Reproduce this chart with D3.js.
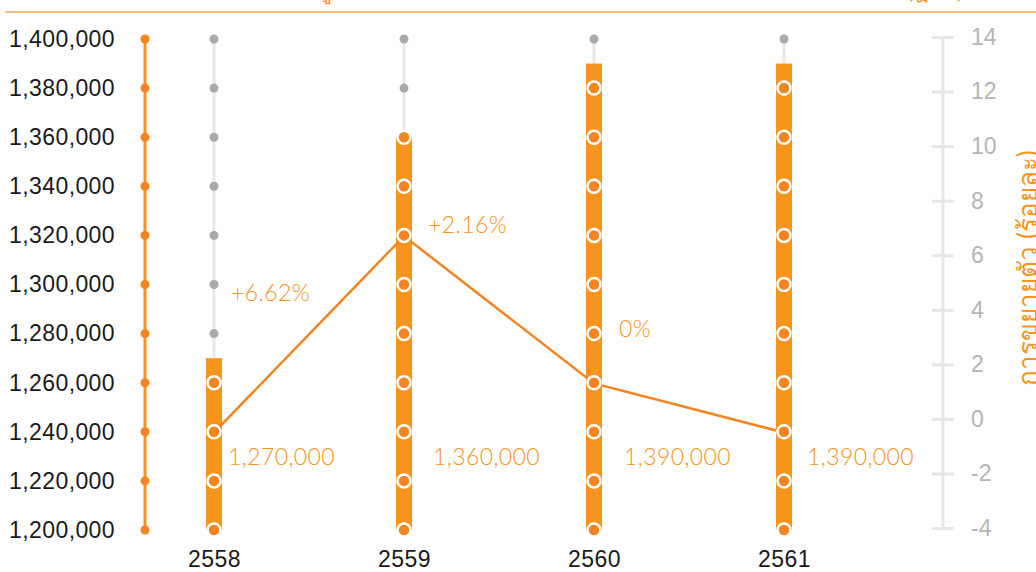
<!DOCTYPE html>
<html>
<head>
<meta charset="utf-8">
<script src="https://cdn.jsdelivr.net/npm/d3@7"></script>
<style>
  body { margin: 0; background: #fff; }
  svg { display: block; font-family: Lato, "Noto Sans", sans-serif; }
</style>
</head>
<body>
<svg width="1036" height="572"></svg>
<script>
var years = ["2558", "2559", "2560", "2561"];
var amounts = [1270000, 1360000, 1390000, 1390000];
var growthLine = [-0.5, 6.7, 1.3, -0.5];
var growthLabels = ["+6.62%", "+2.16%", "0%"];
var growthLabelPos = [4.65, 7.15, 3.35];
var leftTicks = [1200000, 1220000, 1240000, 1260000, 1280000, 1300000, 1320000, 1340000, 1360000, 1380000, 1400000];
var rightTicks = [-4, -2, 0, 2, 4, 6, 8, 10, 12, 14];

// label nudges (px)
var valueDx = [14, 29, 30, 23];
var pctDx = [17, 24, 25];

var orange = "#f7941d";
var dotOrange = "#f28421";
var grey = "#a7a9ac";
var light = "#e6e7e8";

var svg = d3.select("svg");

var x = d3.scalePoint().domain(years).range([214, 784]);
var yL = d3.scaleLinear().domain([1200000, 1400000]).range([530, 39]);
var yR = d3.scaleLinear().domain([-4, 14]).range([528, 37]);

// title, mostly above the top edge
svg.append("text")
    .attr("x", 560).attr("y", -2)
    .attr("text-anchor", "middle")
    .style("font-size", "24px")
    .style("fill", orange)
    .text("แนวโน้มจำนวนผู้ใช้บริการ และอัตราการขยายตัว ระหว่างปี 2558 - 2561 (ฎีกา)");
svg.append("line")
    .attr("x1", 5).attr("x2", 1036).attr("y1", 12).attr("y2", 12)
    .style("stroke", "#f9a55a").style("stroke-width", 1.5);

// left axis
var left = svg.append("g").attr("transform", "translate(145,0)")
    .call(d3.axisLeft(yL).tickValues(leftTicks).tickFormat(d3.format(",")).tickSize(0).tickPadding(30));
left.select(".domain").remove();
left.selectAll("text").style("font-size", "23px").style("font-weight", 300)
    .style("letter-spacing", "0.4px").style("fill", "#1a1a1a");
svg.append("line")
    .attr("x1", 145).attr("x2", 145).attr("y1", yL(1400000)).attr("y2", yL(1200000))
    .style("stroke", orange).style("stroke-width", 3);
svg.selectAll(".ldot").data(leftTicks).enter().append("circle")
    .attr("cx", 145).attr("cy", d => yL(d)).attr("r", 4.5)
    .style("fill", dotOrange);

// right axis
var right = svg.append("g").attr("transform", "translate(943,0)")
    .call(d3.axisRight(yR).tickValues(rightTicks).tickFormat(d => String(d)).tickSize(11).tickPadding(17));
right.select(".domain").attr("d", "M0," + yR(-4) + "V" + yR(14)).style("stroke", light).style("stroke-width", 3);
right.selectAll(".tick line").attr("x1", -11).style("stroke", light).style("stroke-width", 3);
right.selectAll("text").style("font-size", "23px").style("font-weight", 300).style("fill", "#b3b5b8");

svg.append("text")
    .attr("transform", "translate(1027,268) rotate(-90)")
    .attr("text-anchor", "middle").attr("dominant-baseline", "central")
    .style("font-size", "26px").style("fill", orange)
    .text("การขยายตัว (ร้อยละ)");

// bottom axis
var bottom = svg.append("g").attr("transform", "translate(0,530)")
    .call(d3.axisBottom(x).tickSize(0).tickPadding(21));
bottom.select(".domain").remove();
bottom.selectAll("text").style("font-size", "23px").style("font-weight", 300)
    .style("letter-spacing", "0.4px").style("fill", "#1a1a1a");

// grey guides
years.forEach(function(yr, i) {
    svg.append("line")
        .attr("x1", x(yr)).attr("x2", x(yr))
        .attr("y1", yL(1400000)).attr("y2", yL(amounts[i]))
        .style("stroke", light).style("stroke-width", 3);
    svg.selectAll(null).data(leftTicks.filter(t => t > amounts[i])).enter().append("circle")
        .attr("cx", x(yr)).attr("cy", d => yL(d)).attr("r", 4.5)
        .style("fill", grey);
});

// bars
svg.selectAll(".bar").data(amounts).enter().append("rect")
    .attr("x", (d, i) => x(years[i]) - 8).attr("width", 16)
    .attr("y", d => yL(d)).attr("height", d => yL(1200000) - yL(d))
    .style("fill", orange);

// growth line
var line = d3.line().x((d, i) => x(years[i])).y(d => yR(d));
svg.append("path").datum(growthLine).attr("d", line)
    .style("fill", "none").style("stroke", dotOrange).style("stroke-width", 2.5);

// ringed dots inside bars
years.forEach(function(yr, i) {
    svg.selectAll(null).data(leftTicks.filter(t => t <= amounts[i])).enter().append("circle")
        .attr("cx", x(yr)).attr("cy", d => yL(d)).attr("r", 6.5)
        .style("fill", dotOrange).style("stroke", "#fff").style("stroke-width", 2.5);
});

// labels
svg.selectAll(".val").data(amounts).enter().append("text")
    .attr("x", (d, i) => x(years[i]) + valueDx[i]).attr("y", yL(1230000))
    .attr("dominant-baseline", "central")
    .style("font-size", "23px").style("font-weight", 300)
    .style("letter-spacing", "0.4px").style("fill", orange)
    .text(d3.format(","));
svg.selectAll(".pct").data(growthLabels).enter().append("text")
    .attr("x", (d, i) => x(years[i]) + pctDx[i]).attr("y", (d, i) => yR(growthLabelPos[i]))
    .attr("dominant-baseline", "central")
    .style("font-size", "23px").style("font-weight", 300)
    .style("letter-spacing", "0.4px").style("fill", orange)
    .text(d => d);
</script>
</body>
</html>
